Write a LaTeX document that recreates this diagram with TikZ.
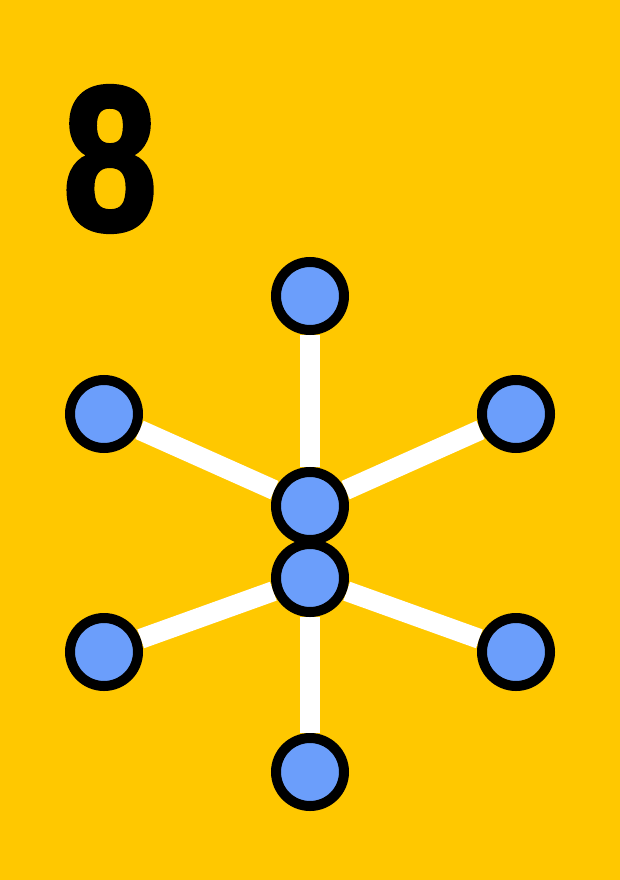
\documentclass[tikz,border=0pt]{standalone}
\usepackage{fontspec}
\usepackage{tikz}
\usetikzlibrary{positioning}
\newfontfamily\digitfont{Liberation Sans}[FakeBold=2.5]
\definecolor{cBack}{HTML}{FFC800}
\definecolor{cVert}{HTML}{6B9EFB}
\definecolor{cEdge}{HTML}{FFFFFF}
\pgfdeclarelayer{bg}
\pgfdeclarelayer{edges}
\pgfsetlayers{bg,edges,main}
\tikzset{
  vert/.style={circle, draw=black, line width=10pt, fill=cVert,
               minimum size=68pt, inner sep=0pt},
  edge/.style={draw=cEdge, line width=20pt},
  bignum/.style={font=\digitfont\bfseries\fontsize{205}{205}\selectfont,
                 inner sep=0pt, xscale=0.82}
}

\begin{document}
\begin{tikzpicture}[x=1pt, y=-1pt]
% background
\begin{pgfonlayer}{bg}
\fill[cBack] (0,0) rectangle (620,880);
\end{pgfonlayer}
\useasboundingbox (0,0) rectangle (620,880);
% card number
\node[bignum] (num) at (110,159) {8};
% upper star
\node[vert] (top) at (310,296) {};
\node[vert] (ul) at (104,414) {};
\node[vert] (ur) at (516,414) {};
\node[vert] (hubA) at (310,506) {};
% lower star
\node[vert] (hubB) at (310,578) {};
\node[vert] (ll) at (104,652) {};
\node[vert] (lr) at (516,652) {};
\node[vert] (bot) at (310,772) {};
\begin{pgfonlayer}{edges}
\foreach \v in {top,ul,ur} \draw[edge] (hubA) -- (\v);
\foreach \v in {ll,lr,bot} \draw[edge] (hubB) -- (\v);
\end{pgfonlayer}
\end{tikzpicture}
\end{document}
